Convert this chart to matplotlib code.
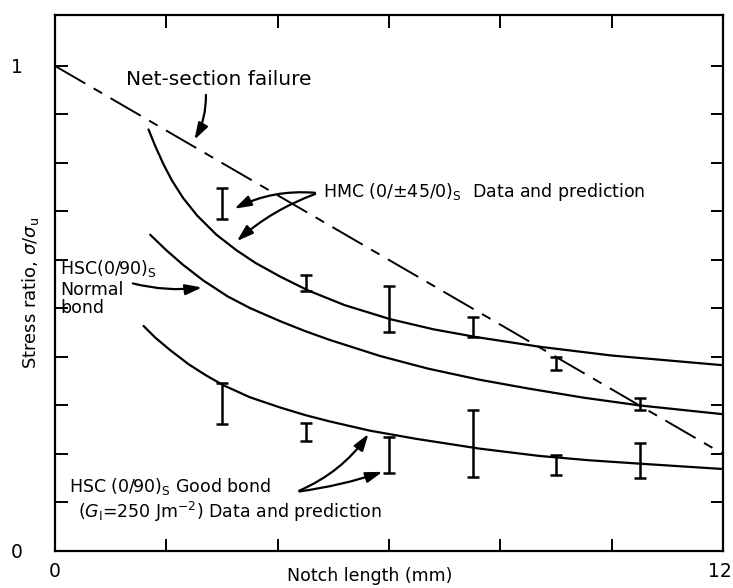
import numpy as np
import matplotlib.pyplot as plt
from matplotlib.transforms import ScaledTranslation

# net-section failure line
net_x = [0, 12]
net_y = [1.0, 0.2]

# predictions
hmc_x = [1.68, 1.8, 1.95, 2.1, 2.3, 2.55, 2.9, 3.26, 3.6, 4.04, 4.55, 5.2,
         6.02, 6.8, 7.57, 8.71, 10.0, 12.0]
hmc_y = [0.869, 0.835, 0.797, 0.764, 0.728, 0.692, 0.652, 0.620, 0.594, 0.566,
         0.537, 0.507, 0.478, 0.457, 0.441, 0.421, 0.403, 0.383]

normal_x = [1.71, 2.0, 2.3, 2.66, 3.1, 3.5, 4.04, 4.5, 4.94, 5.84, 6.7, 7.63,
            8.5, 9.5, 10.51, 12.0]
normal_y = [0.652, 0.620, 0.590, 0.558, 0.525, 0.501, 0.474, 0.453, 0.435,
            0.402, 0.376, 0.353, 0.335, 0.316, 0.300, 0.282]

good_x = [1.59, 1.8, 2.07, 2.4, 2.7, 3.02, 3.5, 4.04, 4.5, 4.94, 5.66, 6.5,
          7.63, 8.7, 9.6, 10.51, 12.0]
good_y = [0.464, 0.440, 0.414, 0.385, 0.363, 0.342, 0.317, 0.296, 0.280, 0.267,
          0.248, 0.231, 0.211, 0.196, 0.187, 0.180, 0.169]

# measured ranges (low, high)
hmc_data_x = [3.0, 4.5, 6.0, 7.5, 9.0]
hmc_lo = [0.684, 0.537, 0.452, 0.441, 0.373]
hmc_hi = [0.748, 0.570, 0.547, 0.483, 0.400]

normal_data_x = [10.5]
normal_lo = [0.291]
normal_hi = [0.316]

good_data_x = [3.0, 4.5, 6.0, 7.5, 9.0, 10.5]
good_lo = [0.261, 0.227, 0.161, 0.153, 0.157, 0.150]
good_hi = [0.347, 0.263, 0.236, 0.291, 0.198, 0.222]

FS = 12.5

fig = plt.figure(figsize=(7.33, 5.88), dpi=100)
ax = fig.add_axes([55 / 733, 37 / 588, 668 / 733, 536 / 588])

ax.plot(net_x, net_y, color="black", lw=1.4, linestyle=(0, (18, 5, 5, 5)))
for xs, ys in [(hmc_x, hmc_y), (normal_x, normal_y), (good_x, good_y)]:
    ax.plot(xs, ys, color="black", lw=1.6, solid_capstyle="round",
            solid_joinstyle="round")


def ranges(xs, lo, hi):
    lo = np.array(lo)
    hi = np.array(hi)
    mid = (lo + hi) / 2
    ax.errorbar(xs, mid, yerr=(hi - lo) / 2, fmt="none", ecolor="black",
                elinewidth=1.8, capsize=4.5, capthick=1.8)


ranges(hmc_data_x, hmc_lo, hmc_hi)
ranges(normal_data_x, normal_lo, normal_hi)
ranges(good_data_x, good_lo, good_hi)

arrow = dict(arrowstyle="-|>,head_length=1.0,head_width=0.32", color="black", lw=1.6)

ax.text(1.28, 0.973, "Net-section failure", fontsize=14.5, va="center")
ax.annotate("", xy=(2.48, 0.843), xytext=(2.71, 0.946),
            arrowprops=dict(arrow, connectionstyle="arc3,rad=-0.15"))

ax.text(4.81, 0.740, r"HMC (0/$\pm$45/0)$_\mathregular{S}$  Data and prediction",
        fontsize=FS, va="center")
ax.annotate("", xy=(3.18, 0.703), xytext=(4.72, 0.738),
            arrowprops=dict(arrow, connectionstyle="arc3,rad=0.15"))
ax.annotate("", xy=(3.23, 0.635), xytext=(4.72, 0.738),
            arrowprops=dict(arrow, connectionstyle="arc3,rad=0.1"))

ax.text(0.09, 0.583, r"HSC(0/90)$_\mathregular{S}$", fontsize=FS, va="center")
ax.text(0.09, 0.538, "Normal", fontsize=FS, va="center")
ax.text(0.09, 0.501, "bond", fontsize=FS, va="center")
ax.annotate("", xy=(2.69, 0.544), xytext=(1.35, 0.553),
            arrowprops=dict(arrow, connectionstyle="arc3,rad=0.1"))

ax.text(0.25, 0.132, r"HSC (0/90)$_\mathregular{S}$ Good bond", fontsize=FS, va="center")
ax.text(0.42, 0.08, r"($G_\mathregular{I}$=250 Jm$^{-2}$) Data and prediction",
        fontsize=FS, va="center")
ax.annotate("", xy=(5.66, 0.246), xytext=(4.34, 0.122),
            arrowprops=dict(arrow, connectionstyle="arc3,rad=0.15"))
ax.annotate("", xy=(5.93, 0.165), xytext=(4.34, 0.122),
            arrowprops=dict(arrow, connectionstyle="arc3,rad=0.05"))

ax.set_xlim(0, 12)
ax.set_ylim(0, 1.105)
ax.set_xticks(np.arange(0, 13, 2))
ax.set_xticklabels(["0", "", "", "", "", "", "12"])
ax.set_yticks(np.arange(0, 1.01, 0.1))
ax.set_yticklabels(["0"] + [""] * 9 + ["1"])
ax.tick_params(direction="in", length=9, width=1.4, top=True, right=True,
               labelsize=FS + 1)
ax.tick_params(axis="y", pad=23)
ax.tick_params(axis="x", pad=8)
# pull the last x label back inside the figure edge
last = ax.get_xticklabels()[-1]
last.set_transform(last.get_transform() + ScaledTranslation(-3 / 100, 0, fig.dpi_scale_trans))
for s in ax.spines.values():
    s.set_linewidth(1.6)

ax.set_xlabel("Notch length (mm)", fontsize=FS, va="center")
ax.xaxis.set_label_coords(0.4716, -0.047)
ax.set_ylabel(r"Stress ratio, $\sigma/\sigma_\mathregular{u}$", fontsize=13, va="center")
ax.yaxis.set_label_coords(-0.0374, 0.481)

fig.savefig("out.png", dpi=100)
